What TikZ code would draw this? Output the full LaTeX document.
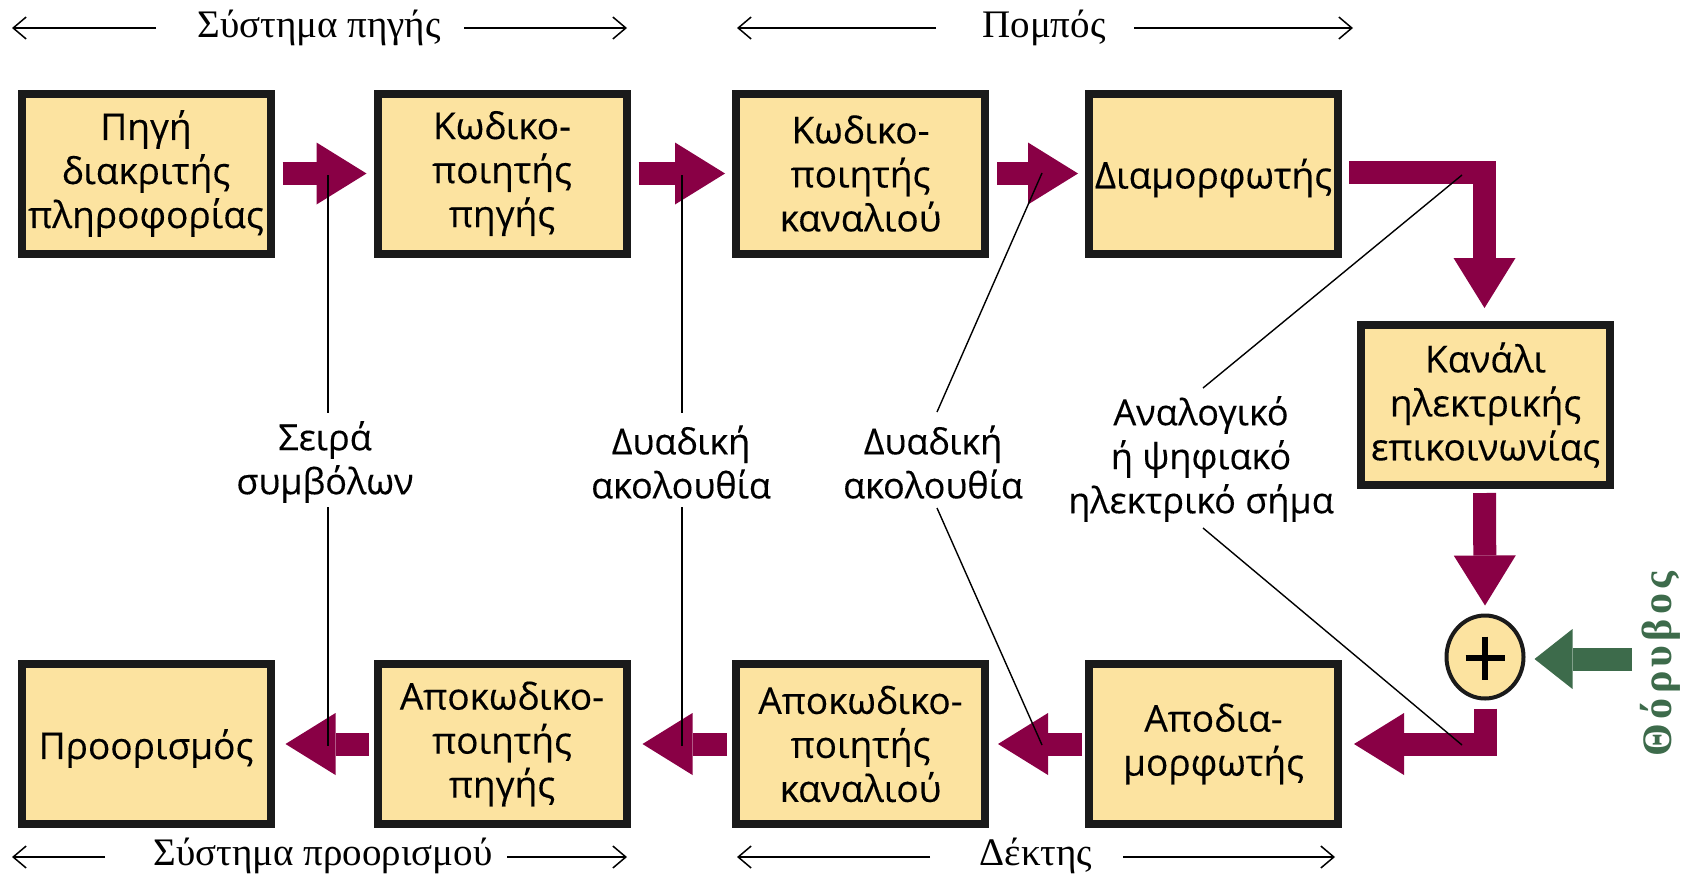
\documentclass[tikz,border=0pt]{standalone}
\usepackage{fontspec}
\setmainfont{Liberation Serif}
\newfontfamily\blockfont[FakeBold=0.3]{Open Sans}
\newfontfamily\noisefont[LetterSpace=10]{Liberation Serif}
\usetikzlibrary{arrows.meta,calc,shapes.geometric}

\definecolor{boxfill}{HTML}{FCE3A0}
\definecolor{flow}{HTML}{890045}
\definecolor{noisegreen}{HTML}{3D6B4B}
\definecolor{frame}{HTML}{1A1A1A}

\begin{document}
\begin{tikzpicture}[x=1pt,y=-1pt,
  block/.style={draw=frame, line width=8pt, fill=boxfill,
    minimum width=249pt, minimum height=160pt, inner sep=0pt,
    align=center, font=\blockfont\fontsize{37}{44}\selectfont,
    execute at begin node={\rule{0pt}{1.05em}}},
  lbl/.style={align=center, inner sep=0pt, font=\blockfont\fontsize{36}{44}\selectfont},
  title/.style={anchor=base, inner sep=0pt, font=\fontsize{39}{42}\selectfont},
  span/.style={line width=1.5pt, -{Straight Barb[length=13pt,width=22pt,line width=1.5pt]}},
  flowarrow/.style={draw=flow, line width=23pt, line join=miter,
    -{Triangle[length=50pt,width=62pt,line width=0pt]}},
  noisearrow/.style={draw=noisegreen, line width=23pt,
    -{Triangle[length=38pt,width=60pt,line width=0pt]}},
  leader/.style={line width=1.4pt, draw=black}
]
\useasboundingbox (0,0) rectangle (1692,876);

% ---- blocks ----
\node[block] (src)   at (146,173.5)   {Πηγή\\διακριτής\\πληροφορίας};
\node[block] (senc)  at (502,173.5)   {Κωδικο-\\ποιητής\\πηγής};
\node[block] (cenc)  at (860.5,173.5) {Κωδικο-\\ποιητής\\καναλιού};
\node[block] (mod)   at (1213.5,173.5){Διαμορφωτής};
\node[block] (chan)  at (1485.5,405)  {Κανάλι\\ηλεκτρικής\\επικοινωνίας};
\node[block] (demod) at (1213.5,744)  {Αποδια-\\μορφωτής};
\node[block] (cdec)  at (860.5,744)   {Αποκωδικο-\\ποιητής\\καναλιού};
\node[block] (sdec)  at (502,744)     {Αποκωδικο-\\ποιητής\\πηγής};
\node[block] (dest)  at (146,744)     {Προορισμός};

% ---- summing junction ----
\node[ellipse, draw=frame, line width=4pt, fill=boxfill,
      minimum width=77pt, minimum height=83pt, inner sep=0pt] (sum) at (1485,657) {};
\draw[line width=5.5pt] ($(sum)+(-19.5,1)$) -- ($(sum)+(19.5,1)$);
\draw[line width=5.5pt] ($(sum)+(0,-20.5)$) -- ($(sum)+(0,22.5)$);

% ---- signal flow ----
\draw[flowarrow] ($(src.east)+(8,0)$)  -- ($(senc.west)+(-7,0)$);
\draw[flowarrow] ($(senc.east)+(8,0)$) -- ($(cenc.west)+(-7,0)$);
\draw[flowarrow] ($(cenc.east)+(8,0)$) -- ($(mod.west)+(-7,0)$);
\draw[flowarrow] ($(mod.east)+(7,-1)$) -| ($(chan.north)+(-1,-13)$);
\draw[flowarrow] ($(chan.south)+(-1,4)$) -- ($(sum.north)+(0,-8)$);
\draw[flowarrow] ($(sum.south)+(0,8)$) |- ($(demod.east)+(12,0)$);
\draw[flowarrow] ($(demod.west)+(-3,0)$) -- ($(cdec.east)+(9,0)$);
\draw[flowarrow] ($(cdec.west)+(-5,0)$) -- ($(sdec.east)+(12,0)$);
\draw[flowarrow] ($(sdec.west)+(-5,0)$) -- ($(dest.east)+(11,0)$);

% ---- noise input ----
\coordinate (noise) at (1632,659);
\draw[noisearrow] (noise) -- ($(sum.east)+(9,2)$);
\node[rotate=90, text=noisegreen, inner sep=0pt,
      font=\noisefont\bfseries\fontsize{42}{44}\selectfont] (noiselbl) at (1660,664) {Θόρυβος};

% ---- signal labels ----
\node[lbl] (sym)  at (325,462)  {Σειρά\\συμβόλων};
\node[lbl] (bin1) at (681,462)  {Δυαδική\\ακολουθία};
\node[lbl] (bin2) at (933,462)  {Δυαδική\\ακολουθία};
\node[lbl] (ana)  at (1201,459) {Αναλογικό\\ή ψηφιακό\\ηλεκτρικό σήμα};

% leader lines from the labels to the arrows
\coordinate (symT)  at (328,175);  \coordinate (symA)  at (328,413);
\coordinate (symB)  at (328,507);  \coordinate (symD)  at (328,746);
\coordinate (bin1T) at (682,175);  \coordinate (bin1A) at (682,413);
\coordinate (bin1B) at (682,507);  \coordinate (bin1D) at (682,746);
\coordinate (bin2T) at (1042,173); \coordinate (bin2A) at (937,412);
\coordinate (bin2B) at (937,508);  \coordinate (bin2D) at (1042,745);
\coordinate (anaT)  at (1462,175); \coordinate (anaA)  at (1203,388);
\coordinate (anaB)  at (1203,528); \coordinate (anaD)  at (1462,745);
\draw[leader] (symT) -- (symA);   \draw[leader] (symB) -- (symD);
\draw[leader] (bin1T) -- (bin1A); \draw[leader] (bin1B) -- (bin1D);
\draw[leader] (bin2T) -- (bin2A); \draw[leader] (bin2B) -- (bin2D);
\draw[leader] (anaT) -- (anaA);   \draw[leader] (anaB) -- (anaD);

% ---- subsystem spans ----
\node[title] (tsrc)  at (319,37)   {Σύστημα πηγής};
\node[title] (ttx)   at (1044,37)  {Πομπός};
\node[title] (tdst)  at (323,865)  {Σύστημα προορισμού};
\node[title] (trx)   at (1036,865) {Δέκτης};

\coordinate (s1a) at (156,28);  \coordinate (s1b) at (12,28);
\coordinate (s1c) at (464,28);  \coordinate (s1d) at (627,28);
\coordinate (s2a) at (936,28);  \coordinate (s2b) at (737,28);
\coordinate (s2c) at (1134,28); \coordinate (s2d) at (1353,28);
\coordinate (s3a) at (105,857); \coordinate (s3b) at (12,857);
\coordinate (s3c) at (507,857); \coordinate (s3d) at (627,857);
\coordinate (s4a) at (930,857); \coordinate (s4b) at (737,857);
\coordinate (s4c) at (1123,857);\coordinate (s4d) at (1335,857);
\draw[span] (s1a) -- (s1b); \draw[span] (s1c) -- (s1d);
\draw[span] (s2a) -- (s2b); \draw[span] (s2c) -- (s2d);
\draw[span] (s3a) -- (s3b); \draw[span] (s3c) -- (s3d);
\draw[span] (s4a) -- (s4b); \draw[span] (s4c) -- (s4d);
\end{tikzpicture}
\end{document}
